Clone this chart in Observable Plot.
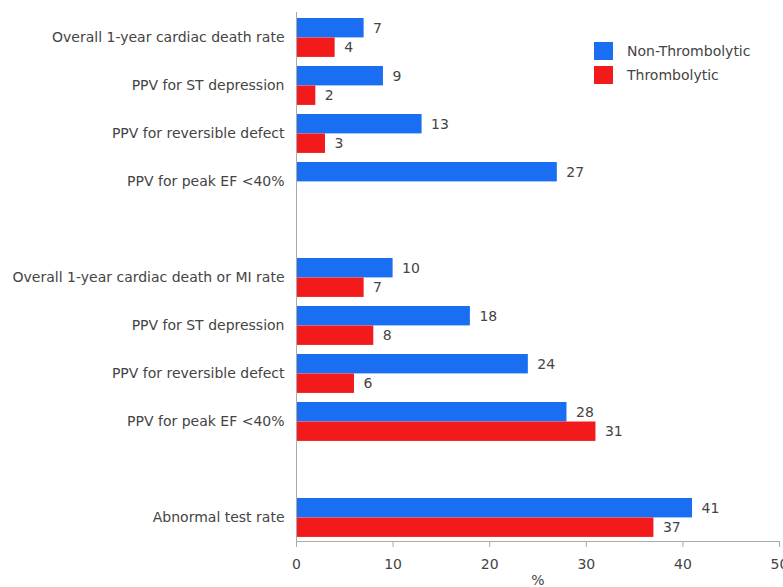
<!DOCTYPE html>
<html>
<head>
<meta charset="utf-8">
<script src="https://cdn.jsdelivr.net/npm/d3@7"></script>
<script src="https://cdn.jsdelivr.net/npm/@observablehq/plot@0.6"></script>
<style>
  html, body { margin: 0; padding: 0; background: #fff; }
  #wrap { position: relative; width: 783px; height: 587px; font-family: "DejaVu Sans", Verdana, sans-serif; }
  #legend { position: absolute; left: 594px; top: 39px; font-size: 14px; color: #444; }
  .item { display: flex; align-items: center; height: 24px; }
  .sw { width: 19px; height: 18px; margin-right: 14px; }
</style>
</head>
<body>
<div id="wrap"></div>
<script>
const categories = ["g1a", "g1b", "g1c", "g1d", "sp1", "g2a", "g2b", "g2c", "g2d", "sp2", "ab"];
const categoryLabels = [
  "Overall 1-year cardiac death rate",
  "PPV for ST depression",
  "PPV for reversible defect",
  "PPV for peak EF <40%",
  "",
  "Overall 1-year cardiac death or MI rate",
  "PPV for ST depression",
  "PPV for reversible defect",
  "PPV for peak EF <40%",
  "",
  "Abnormal test rate"
];
const nonThrombolytic = [7, 9, 13, 27, null, 10, 18, 24, 28, null, 41];
const thrombolytic = [4, 2, 3, 0, null, 7, 8, 6, 31, null, 37];
const seriesNames = ["Non-Thrombolytic", "Thrombolytic"];
const seriesColors = ["#1a6ef2", "#f21a1a"];
const xTicks = [0, 10, 20, 30, 40, 50];

const labelOf = new Map(categories.map((c, i) => [c, categoryLabels[i]]));
const rowsNon = categories.map((c, i) => ({cat: c, value: nonThrombolytic[i]})).filter(d => d.value != null);
const rowsThr = categories.map((c, i) => ({cat: c, value: thrombolytic[i]})).filter(d => d.value != null);

const W = 783, H = 587, mt = 12, mb = 46, ml = 296, mr = 4;
const bw = (H - mt - mb) / categories.length;
const outer = 5, barH = 19.5;
const blueTop = outer, blueBottom = bw - outer - barH;
const redTop = outer + barH, redBottom = bw - outer - 2 * barH;
const blueDy = (outer + barH / 2) - bw / 2;
const redDy = (outer + barH * 1.5) - bw / 2;
const fs = 14;

const chart = Plot.plot({
  width: W,
  height: H,
  marginTop: mt,
  marginBottom: mb,
  marginLeft: ml,
  marginRight: mr,
  style: {fontFamily: "'DejaVu Sans', Verdana, sans-serif", fontSize: fs + "px", color: "#444", background: "#fff", overflow: "visible"},
  x: {domain: [0, 50], ticks: xTicks},
  y: {domain: categories, padding: 0, label: null},
  marks: [
    Plot.barX(rowsNon, {x: "value", y: "cat", fill: seriesColors[0], insetTop: blueTop, insetBottom: blueBottom}),
    Plot.barX(rowsThr, {x: "value", y: "cat", fill: seriesColors[1], insetTop: redTop, insetBottom: redBottom}),
    Plot.text(rowsNon.filter(d => d.value > 0), {x: "value", y: "cat", text: d => String(d.value), dx: 9, dy: blueDy, textAnchor: "start", fill: "#444", fontSize: fs}),
    Plot.text(rowsThr.filter(d => d.value > 0), {x: "value", y: "cat", text: d => String(d.value), dx: 9, dy: redDy, textAnchor: "start", fill: "#444", fontSize: fs}),
    Plot.axisY({tickSize: 0, tickPadding: 12, tickFormat: c => labelOf.get(c), fontSize: fs, label: null}),
    Plot.axisX({ticks: xTicks, tickSize: 6, tickPadding: 12, stroke: "#aaa", fill: "#444", fontSize: fs, label: "%", labelArrow: "none", labelAnchor: "center", labelOffset: 43}),
    Plot.frame({anchor: "bottom", stroke: "#aaa"}),
    Plot.frame({anchor: "left", stroke: "#aaa"})
  ]
});
document.getElementById("wrap").appendChild(chart);

const legend = document.createElement("div");
legend.id = "legend";
seriesNames.forEach((name, i) => {
  const item = document.createElement("div");
  item.className = "item";
  const sw = document.createElement("div");
  sw.className = "sw";
  sw.style.background = seriesColors[i];
  const t = document.createElement("span");
  t.textContent = name;
  item.appendChild(sw);
  item.appendChild(t);
  legend.appendChild(item);
});
document.getElementById("wrap").appendChild(legend);
</script>
</body>
</html>
